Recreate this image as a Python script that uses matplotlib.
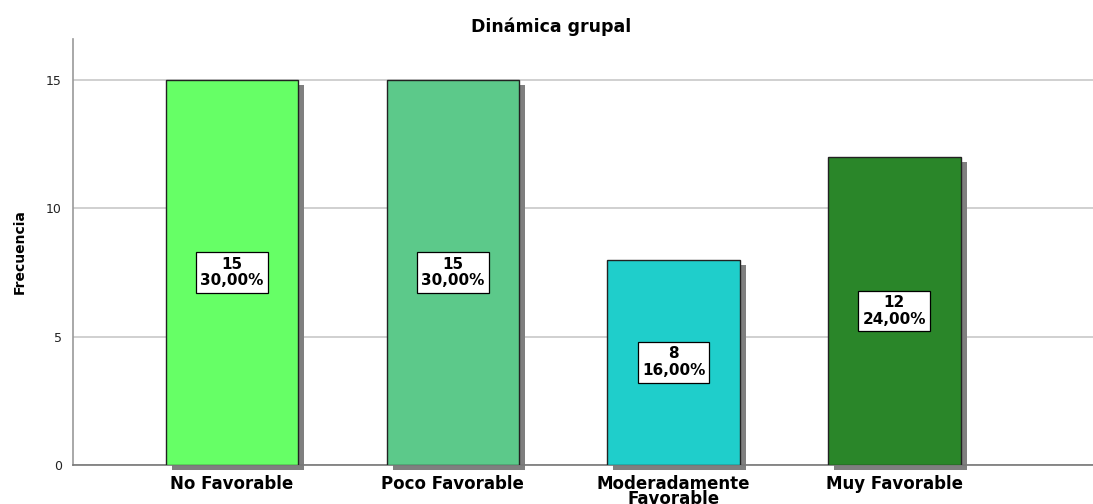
import matplotlib.pyplot as plt
from matplotlib.patches import Rectangle

categories = ["No Favorable", "Poco Favorable", "Moderadamente\nFavorable", "Muy Favorable"]
counts = [15, 15, 8, 12]
percents = ["30,00%", "30,00%", "16,00%", "24,00%"]
colors = ["#66FF66", "#5CC98A", "#1FCECB", "#2A8629"]
yticks = [0, 5, 10, 15]

plt.rcParams["font.family"] = ["DejaVu Sans"]

fig = plt.figure(figsize=(10.93, 5.04), dpi=100)
ax = fig.add_axes([73 / 1093, 39 / 504, 1 - 73 / 1093, (465 - 39) / 504])

width = 0.6
x = list(range(len(categories)))

# drop shadow behind each bar (offset a few pixels right/down)
dx = 6 / 221
dy = 5 / 25.6
for xi, c in zip(x, counts):
    ax.add_patch(Rectangle((xi - width / 2 + dx, -dy), width, c, color="#7f7f7f",
                           zorder=2, clip_on=False, lw=0))

ax.bar(x, counts, width=width, color=colors, edgecolor="#222222", linewidth=1.0, zorder=3)

for xi, c, p in zip(x, counts, percents):
    ax.text(xi, c / 2, f"{c}\n{p}", ha="center", va="center", fontsize=11,
            fontweight="bold", linespacing=1.15, zorder=4,
            bbox=dict(boxstyle="square,pad=0.28", fc="white", ec="black", lw=0.9))

ax.set_xlim(-0.72, 3.9)
ax.set_ylim(0, 16.6)
ax.set_yticks(yticks)
ax.set_xticks(x)
ax.set_xticklabels(categories, fontsize=12, fontweight="bold", linespacing=0.8)
ax.tick_params(axis="x", length=0, pad=7)
ax.tick_params(axis="y", length=0, labelsize=9, labelcolor="#222222", pad=8)
ax.grid(axis="y", color="#c8c8c8", lw=1.2, zorder=0)
ax.set_axisbelow(True)

for s in ["top", "right"]:
    ax.spines[s].set_visible(False)
ax.spines["left"].set_color("#999999")
ax.spines["left"].set_linewidth(1.2)
ax.spines["bottom"].set_color("#777777")
ax.spines["bottom"].set_linewidth(1.2)

ax.set_ylabel("Frecuencia", fontsize=10, fontweight="bold", labelpad=14)
fig.text(551 / 1093, 1 - 27 / 504, "Dinámica grupal", ha="center", va="center",
         fontsize=12.5, fontweight="bold")

fig.savefig("out.png", dpi=100)
